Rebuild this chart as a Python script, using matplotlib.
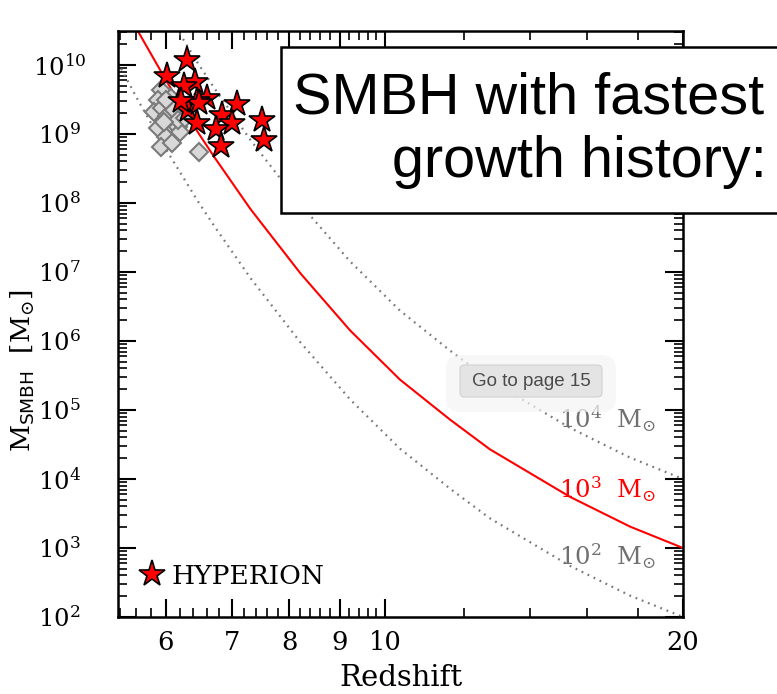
import numpy as np
import matplotlib
matplotlib.use("Agg")
import matplotlib.pyplot as plt
from matplotlib.ticker import NullFormatter
from matplotlib.patches import Rectangle, FancyBboxPatch

plt.rcParams['font.family'] = ['DejaVu Serif', 'DejaVu Sans']
plt.rcParams['mathtext.fontset'] = 'dejavuserif'

# growth track for a 1e3 Msun seed
track_z = [5.37, 5.64, 6.02, 6.47, 6.73, 7.31, 8.21, 9.22, 10.35, 11.63, 12.76, 15.38, 17.68, 20.0]
track_logm = [11.03, 10.46, 9.75, 9.02, 8.65, 7.91, 6.98, 6.15, 5.44, 4.86, 4.43, 3.74, 3.31, 3.00]
seeds = [1e2, 1e3, 1e4]
seed_labels = [r'$10^2\ \ \mathrm{M}_{\odot}$', r'$10^3\ \ \mathrm{M}_{\odot}$', r'$10^4\ \ \mathrm{M}_{\odot}$']

# HYPERION quasars (stars)
hyp_z = [6.30, 6.02, 6.43, 6.26, 6.60, 7.09, 6.32, 6.84, 6.46, 7.00, 6.74, 7.51, 7.54, 6.83, 6.45, 6.49, 6.22]
hyp_m = [1.17e10, 6.8e9, 5.6e9, 4.9e9, 3.3e9, 2.7e9, 2.2e9, 1.9e9, 1.45e9, 1.45e9, 1.17e9,
         1.6e9, 8.1e8, 6.6e8, 3.0e9, 2.8e9, 3.0e9]

# other z~6 quasars (diamonds)
oth_z = [5.94, 5.90, 5.84, 5.95, 6.08, 6.02, 5.90, 6.07, 6.18, 6.00, 5.93, 6.09, 6.21, 6.49,
         6.12, 6.17, 6.01, 6.27, 5.97]
oth_m = [4.4e9, 3.1e9, 2.1e9, 2.4e9, 3.3e9, 1.8e9, 1.2e9, 1.25e9, 1.25e9, 9.1e8, 6.5e8, 7.4e8,
         1.07e9, 5.5e8, 2.2e9, 1.6e9, 3.1e9, 1.7e9, 1.5e9]

xticks = [6, 7, 8, 9, 10, 20]
xticklabels = ['6', '7', '8', '9', '10', '20']
xminor = [5.4, 5.6, 5.8, 6.2, 6.4, 6.6, 6.8, 7.2, 7.4, 7.6, 7.8, 8.2, 8.4, 8.6, 8.8,
          9.2, 9.4, 9.6, 9.8, 12, 14, 16, 18]
ytick_exp = [2, 3, 4, 5, 6, 7, 8, 9, 10]

fig = plt.figure(figsize=(7.77, 6.94), dpi=100)
ax = fig.add_axes([118/777, 1-617/694, 565/777, 586/694])

base = 10**np.array(track_logm)
for s in seeds:
    if s == 1e3:
        ax.plot(track_z, base*s/1e3, color='red', lw=1.5, zorder=2, solid_joinstyle='round')
    else:
        ax.plot(track_z, base*s/1e3, color='#777777', lw=1.6, ls=(0, (0.8, 2.2)), zorder=2)

ax.plot(oth_z, oth_m, ls='none', marker='D', ms=8.8, mfc='#d8d8d8', mec='#7a7a7a', mew=1.5, zorder=3)
ax.plot(hyp_z, hyp_m, ls='none', marker='*', ms=20, mfc='red', mec='black', mew=1.2, zorder=4,
        label='HYPERION')

ax.set_xscale('log')
ax.set_yscale('log')
ax.set_xlim(5.37, 20.0)
ax.set_ylim(1e2, 3.1e10)
ax.set_xticks(xticks, labels=xticklabels)
ax.set_xticks(xminor, minor=True)
ax.set_yticks(10.0**np.array(ytick_exp))
ax.xaxis.set_minor_formatter(NullFormatter())
ax.yaxis.set_minor_formatter(NullFormatter())

ax.tick_params(which='both', direction='in', top=True, right=True, width=1.5, colors='black')
ax.tick_params(which='major', length=13)
ax.tick_params(which='minor', length=6.5, width=1.2)
ax.tick_params(axis='x', which='major', labelsize=18.5, pad=9)
ax.tick_params(axis='y', which='major', labelsize=17.5, pad=42)
for lbl in ax.get_yticklabels():
    lbl.set_horizontalalignment('center')
for sp in ax.spines.values():
    sp.set_linewidth(1.8)

ax.set_xlabel('Redshift', fontsize=21, labelpad=7)
ax.set_ylabel(r'$\mathrm{M}_{\mathsf{SMBH}}\ \ [\mathrm{M}_{\odot}]$', fontsize=19)
ax.yaxis.set_label_coords(-0.143, 0.42)

# seed labels
label_y = [0.104, 0.218, 0.338]
label_c = ['#707070', 'red', '#707070']
for t, yy, c in zip(seed_labels, label_y, label_c):
    ax.text(0.952, yy, t, transform=ax.transAxes, ha='right', va='center', fontsize=17.5, color=c)

ax.legend(loc='center left', bbox_to_anchor=(21/565, 41/586), frameon=False, fontsize=19,
          handlelength=1.0, handletextpad=0.25, borderpad=0, borderaxespad=0, numpoints=1)

# overlay box with the slide title
fig.patches.append(Rectangle((281/777, 1-213/694), 0.8, 166/694, transform=fig.transFigure,
                             facecolor='white', edgecolor='black', lw=1.8, zorder=10))
fig.text(293/777, 1-113/694, 'SMBH with fastest', family='Liberation Sans', fontsize=41.5,
         va='baseline', ha='left', zorder=11)
fig.text(392/777, 1-177/694, 'growth history:', family='Liberation Sans', fontsize=41.5,
         va='baseline', ha='left', zorder=11)

# tooltip
fig.patches.append(FancyBboxPatch((446/777, 1-412/694), 170/777, 57/694,
                                  boxstyle='round,pad=0,rounding_size=0.02', transform=fig.transFigure,
                                  facecolor='#f4f4f4', edgecolor='none', alpha=0.7, zorder=10))
fig.patches.append(FancyBboxPatch((460/777, 1-397/694), 142/777, 32/694,
                                  boxstyle='round,pad=0,rounding_size=0.006', transform=fig.transFigure,
                                  facecolor='#e4e4e4', edgecolor='#d2d2d2', lw=0.8, zorder=11))
fig.text(531/777, 1-381/694, 'Go to page 15', family='Liberation Sans', fontsize=13.5,
         color='#4a4a4a', ha='center', va='center', zorder=12)

fig.savefig('out.png', dpi=100)
